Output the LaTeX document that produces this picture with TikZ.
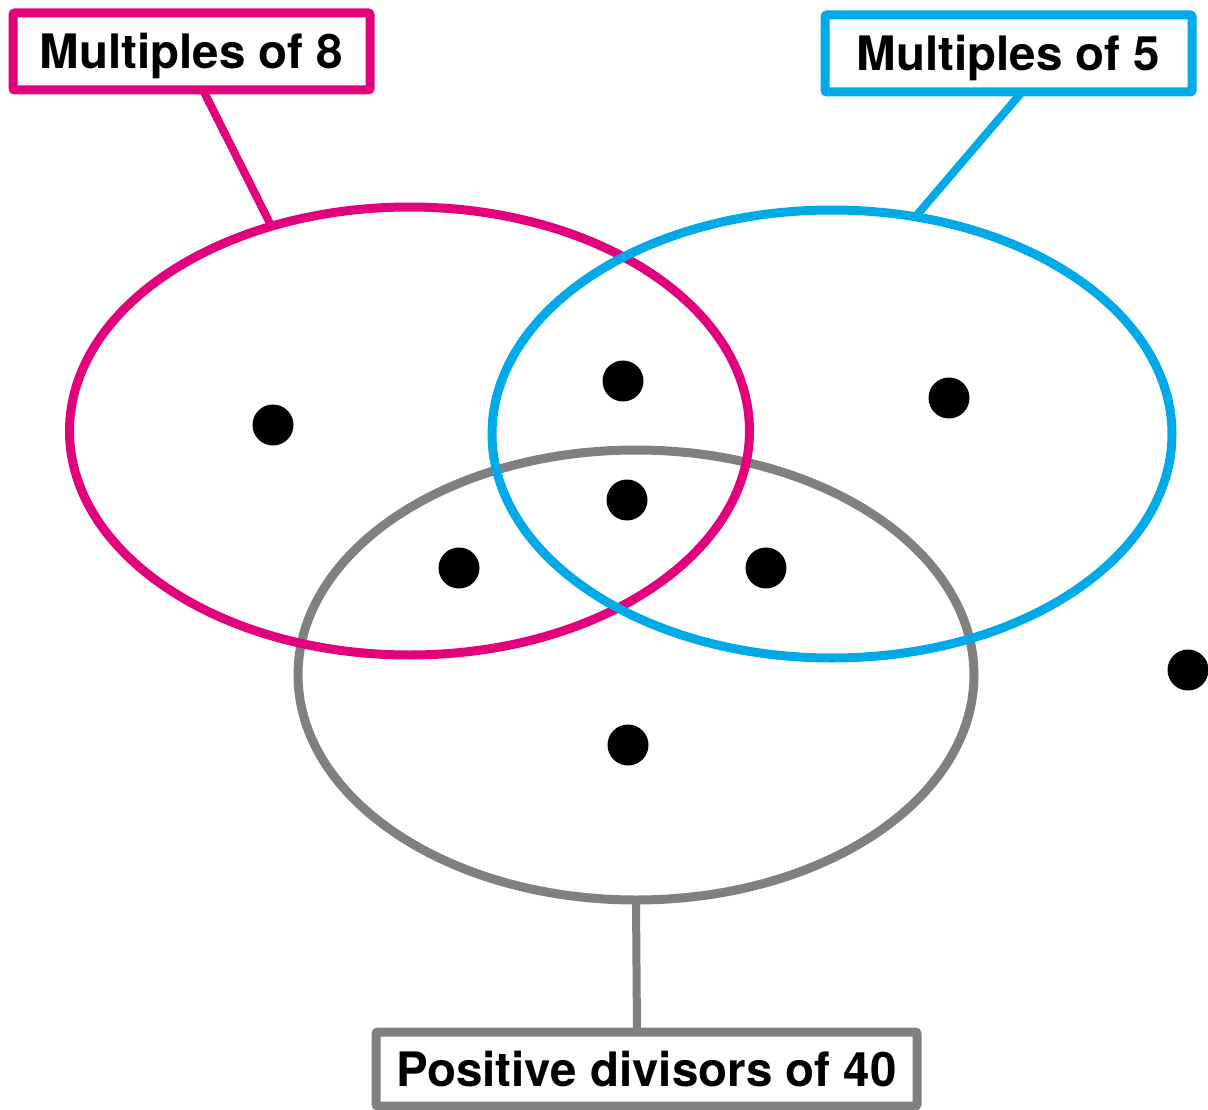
\documentclass[tikz,border=0pt]{standalone}
\usepackage{fontspec}
\setmainfont{TeX Gyre Heros}
\usetikzlibrary{shapes.geometric}
\definecolor{pinkc}{HTML}{E3007C}
\definecolor{bluec}{HTML}{00A9E8}
\definecolor{grayc}{HTML}{808080}
\begin{document}
\begin{tikzpicture}[x=1pt,y=-1pt,
  setell/.style={ellipse,draw=#1,line width=9pt,inner sep=0pt,outer sep=0pt},
  labelbox/.style={draw=#1,line width=9pt,rounded corners=2pt,fill=white,text=black,inner sep=0pt,outer sep=0pt,
    text height=34pt,text depth=0pt,font=\fontsize{47.5}{54}\selectfont\bfseries},
  conn/.style={line width=8pt},
  dot/.style={circle,fill=black,minimum size=41pt,inner sep=0pt}]
\useasboundingbox (0,0) rectangle (1208,1110);
\node[setell=grayc,minimum width=676pt,minimum height=450pt] (ge) at (636,675) {};
\node[setell=pinkc,minimum width=680pt,minimum height=448pt] (pe) at (409.5,431) {};
\node[setell=bluec,minimum width=680pt,minimum height=448pt] (be) at (832,434) {};
\node[labelbox=pinkc,minimum width=357pt,minimum height=77pt] (pk) at (191.5,51.5) {Multiples of 8};
\node[labelbox=bluec,minimum width=367pt,minimum height=77pt] (bk) at (1008.5,53.5) {Multiples of 5};
\node[labelbox=grayc,minimum width=541pt,minimum height=74pt] (gk) at (646.5,1069) {Positive divisors of 40};
\draw[conn,pinkc] ([xshift=11.5pt]pk.south) -- (pe.124);
\draw[conn,bluec] ([xshift=13.5pt]bk.south) -- (be.69);
\draw[conn,grayc] ([xshift=-9.5pt]gk.north) -- (ge.south);
\node[dot] (d1) at (273,425) {};
\node[dot] (d2) at (623,381) {};
\node[dot] (d3) at (949,398) {};
\node[dot] (d4) at (627,500) {};
\node[dot] (d5) at (459,568) {};
\node[dot] (d6) at (766,568) {};
\node[dot] (d7) at (628,745) {};
\node[dot] (d8) at (1188,670) {};
\end{tikzpicture}
\end{document}
